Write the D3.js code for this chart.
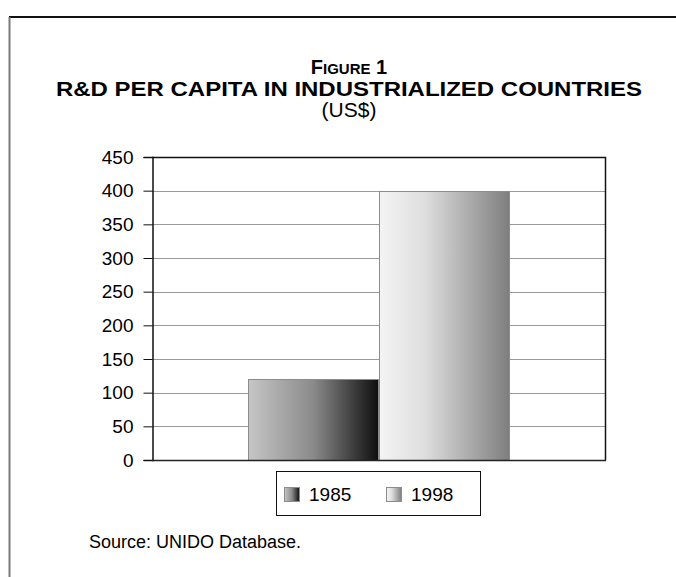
<!DOCTYPE html>
<html>
<head>
<meta charset="utf-8">
<script src="https://cdn.jsdelivr.net/npm/d3@7/dist/d3.min.js"></script>
<style>
    html, body {
        margin: 0;
        padding: 0;
        background: #fff;
    }
    svg text {
        font-family: "Liberation Sans", Arial, sans-serif;
        fill: #000;
    }
</style>
</head>
<body>
<div id="chart"></div>
<script>
    // 数据
    const categories = ["Industrialized countries"];
    const series_names = ["1985", "1998"];
    const values_1985 = [121];
    const values_1998 = [400];
    const y_ticks = [0, 50, 100, 150, 200, 250, 300, 350, 400, 450];

    let width = 676,
        height = 577;

    let svg = d3.select("#chart")
        .append("svg")
        .attr("width", width)
        .attr("height", height);

    // 渐变色
    let defs = svg.append("defs");
    const gradients = {
        "1985": [["0%", "#c6c6c6"], ["50%", "#8a8a8a"], ["100%", "#0e0e0e"]],
        "1998": [["0%", "#f4f4f4"], ["35%", "#dedede"], ["100%", "#7e7e7e"]]
    };
    Object.keys(gradients).forEach(key => {
        let g = defs.append("linearGradient")
            .attr("id", "grad_" + key)
            .attr("x1", "0").attr("y1", "0")
            .attr("x2", "1").attr("y2", "0");
        gradients[key].forEach(s => {
            g.append("stop").attr("offset", s[0]).attr("stop-color", s[1]);
        });
    });

    // 外框
    svg.append("line")
        .attr("x1", 9).attr("x2", width)
        .attr("y1", 17).attr("y2", 17)
        .attr("stroke", "#111")
        .attr("stroke-width", 2);
    svg.append("line")
        .attr("x1", 9.5).attr("x2", 9.5)
        .attr("y1", 17).attr("y2", height)
        .attr("stroke", "#7a7a7a")
        .attr("stroke-width", 2);

    // 标题 —— "FIGURE 1" 小型大写，分段排版
    const title_cx = 349;
    let fig_parts = [
        {text: "F", size: 20},
        {text: "IGURE", size: 15},
        {text: "\u00a01", size: 20}
    ];
    let fig_group = svg.append("g");
    let fig_texts = fig_parts.map(p => fig_group.append("text")
        .attr("y", 74)
        .style("font-weight", "bold")
        .style("font-size", p.size + "px")
        .text(p.text));
    let fig_widths = fig_texts.map(t => t.node().getComputedTextLength());
    let fig_x = title_cx - d3.sum(fig_widths) / 2;
    fig_texts.forEach((t, i) => {
        t.attr("x", fig_x);
        fig_x += fig_widths[i];
    });

    svg.append("text")
        .attr("x", title_cx)
        .attr("y", 96)
        .attr("text-anchor", "middle")
        .style("font-weight", "bold")
        .style("font-size", "21px")
        .attr("textLength", 586)
        .attr("lengthAdjust", "spacingAndGlyphs")
        .text("R&D PER CAPITA IN INDUSTRIALIZED COUNTRIES");

    svg.append("text")
        .attr("x", title_cx)
        .attr("y", 117)
        .attr("text-anchor", "middle")
        .style("font-size", "21px")
        .text("(US$)");

    // 绘图区
    const plot = {left: 152, right: 605, top: 157, bottom: 460};

    let x = d3.scaleBand()
        .domain(categories)
        .range([plot.left, plot.right])
        .paddingInner(0)
        .paddingOuter(0.371);

    let x_inner = d3.scaleBand()
        .domain(series_names)
        .range([0, x.bandwidth()]);

    let y = d3.scaleLinear()
        .domain([0, 450])
        .range([plot.bottom, plot.top]);

    // 网格线
    svg.append("g")
        .selectAll("line")
        .data(y_ticks.filter(d => d > 0 && d < 450))
        .enter()
        .append("line")
        .attr("x1", plot.left).attr("x2", plot.right)
        .attr("y1", d => Math.round(y(d)) + 0.5)
        .attr("y2", d => Math.round(y(d)) + 0.5)
        .attr("stroke", "#9a9a9a")
        .attr("stroke-width", 1);

    // 柱子
    let bar_data = [];
    categories.forEach((c, i) => {
        bar_data.push({cat: c, name: "1985", value: values_1985[i]});
        bar_data.push({cat: c, name: "1998", value: values_1998[i]});
    });

    svg.append("g")
        .selectAll("rect")
        .data(bar_data)
        .enter()
        .append("rect")
        .attr("x", d => Math.round(x(d.cat) + x_inner(d.name)) + 0.5)
        .attr("y", d => Math.round(y(d.value)) + 0.5)
        .attr("width", x_inner.bandwidth())
        .attr("height", d => Math.round(y(0)) - Math.round(y(d.value)))
        .attr("fill", d => "url(#grad_" + d.name + ")")
        .attr("stroke", "#8c8c8c")
        .attr("stroke-width", 1);

    // 绘图区边框（上、右）
    svg.append("path")
        .attr("d", `M${plot.left},${plot.top + 0.5}H${plot.right + 0.5}V${plot.bottom}`)
        .attr("fill", "none")
        .attr("stroke", "#111")
        .attr("stroke-width", 1.5);

    // 坐标轴
    let y_axis = svg.append("g")
        .attr("transform", `translate(${plot.left + 0.5},0)`)
        .call(d3.axisLeft(y).tickValues(y_ticks).tickSize(9).tickPadding(10));
    y_axis.select(".domain").attr("stroke", "#111").attr("stroke-width", 1.5);
    y_axis.selectAll(".tick line").attr("stroke", "#111");
    y_axis.selectAll(".tick text")
        .style("font-size", "19px")
        .style("font-family", "\"Liberation Sans\", Arial, sans-serif")
        .attr("fill", "#000");

    svg.append("line")
        .attr("x1", plot.left).attr("x2", plot.right + 1)
        .attr("y1", plot.bottom + 0.5).attr("y2", plot.bottom + 0.5)
        .attr("stroke", "#222")
        .attr("stroke-width", 1.5);

    // 图例
    let legend = svg.append("g");
    legend.append("rect")
        .attr("x", 276.5).attr("y", 471.5)
        .attr("width", 204).attr("height", 44)
        .attr("fill", "#fff")
        .attr("stroke", "#111")
        .attr("stroke-width", 1);

    const legend_pos = [284, 386];
    series_names.forEach((name, i) => {
        legend.append("rect")
            .attr("x", legend_pos[i] + 0.5).attr("y", 487.5)
            .attr("width", 15).attr("height", 14)
            .attr("fill", "url(#grad_" + name + ")")
            .attr("stroke", "#8c8c8c");
        legend.append("text")
            .attr("x", legend_pos[i] + 25)
            .attr("y", 501)
            .style("font-size", "19px")
            .text(name);
    });

    // 来源
    svg.append("text")
        .attr("x", 89)
        .attr("y", 548)
        .style("font-size", "18px")
        .text("Source: UNIDO Database.");
</script>
</body>
</html>
